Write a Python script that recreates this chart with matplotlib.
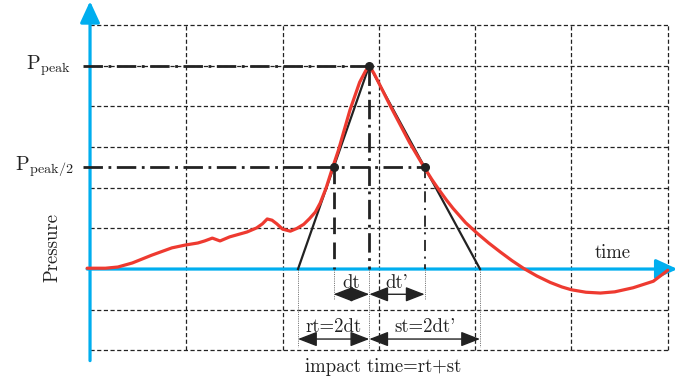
import numpy as np
import matplotlib
matplotlib.use("Agg")
import matplotlib.pyplot as plt

plt.rcParams['mathtext.fontset'] = 'cm'
plt.rcParams['lines.scale_dashes'] = False

# time in grid cells, pressure in grid cells (peak = 5)
curve_t = [-0.03, 0.16, 0.29, 0.44, 0.64, 0.85, 0.99, 1.12, 1.19, 1.27, 1.35,
           1.45, 1.63, 1.73, 1.79, 1.84, 1.89, 1.94, 2.00, 2.08, 2.15, 2.22,
           2.28, 2.34, 2.39, 2.45, 2.52, 2.58, 2.61, 2.70, 2.80, 2.86, 2.90,
           2.95, 3.01, 3.12, 3.22, 3.32, 3.40, 3.47, 3.55, 3.62, 3.70, 3.77,
           3.90, 4.02, 4.14, 4.26, 4.38, 4.50, 4.64, 4.78, 4.90, 5.00, 5.15,
           5.30, 5.45, 5.64, 5.85, 6.00]
curve_p = [0.02, 0.02, 0.05, 0.15, 0.34, 0.52, 0.59, 0.64, 0.69, 0.76, 0.69,
           0.79, 0.91, 1.01, 1.11, 1.23, 1.20, 1.11, 0.98, 0.93, 1.00, 1.10,
           1.24, 1.40, 1.62, 1.98, 2.50, 2.92, 3.17, 3.91, 4.59, 4.86, 5.00,
           4.80, 4.52, 4.00, 3.55, 3.10, 2.78, 2.50, 2.20, 1.96, 1.70, 1.49,
           1.14, 0.88, 0.64, 0.42, 0.21, 0.02, -0.17, -0.33, -0.44, -0.51, -0.57,
           -0.59, -0.56, -0.46, -0.30, -0.03]

t_start = 2.16
t_peak = 2.90
t_end = 4.05
p_peak = 5.0
grid_x = [1, 2, 3, 4, 5, 6]
grid_y = [-2, -1, 1, 2, 3, 4, 5, 6]

blue = '#00aeef'
red = '#ee3a30'
dark = '#222222'
fs = 13.5

t_half_l = (t_start + t_peak) / 2
t_half_r = (t_peak + t_end) / 2

fig = plt.figure(figsize=(6.75, 3.83), dpi=100)
ax = fig.add_axes([0, 0, 1, 1])
ax.set_xlim(-0.935, 6.075)
ax.set_ylim(-2.80, 6.61)
ax.axis('off')

# dashed grid
for gx in grid_x:
    ax.plot([gx, gx], [-2, 6], color=dark, lw=0.9, dashes=(3, 1.8), zorder=1)
for gy in grid_y:
    ax.plot([0, 6], [gy, gy], color=dark, lw=0.9, dashes=(3, 1.8), zorder=1)

# blue axes
arrow_kw = dict(arrowstyle='-|>,head_length=1.3,head_width=0.6',
                color=blue, lw=2.3, mutation_scale=10, shrinkA=0, shrinkB=0)
ax.annotate('', xy=(0, 6.58), xytext=(0, -2.25), arrowprops=arrow_kw,
            annotation_clip=False, zorder=2)
ax.annotate('', xy=(6.1, 0), xytext=(-0.03, 0), arrowprops=arrow_kw,
            annotation_clip=False, zorder=2)

# dash-dot guides
dashdot = (14, 4, 2, 4)
ax.plot([-0.07, t_peak], [p_peak, p_peak], color=dark, lw=2.0, dashes=dashdot, zorder=3)
ax.plot([-0.07, t_half_r], [p_peak / 2, p_peak / 2], color=dark, lw=2.0, dashes=dashdot, zorder=3)
ax.plot([t_peak, t_peak], [p_peak, 0], color=dark, lw=2.0, dashes=dashdot, zorder=3)
ax.plot([t_half_l, t_half_l], [p_peak / 2, 0], color=dark, lw=2.0, dashes=(12, 6), zorder=3)
ax.plot([t_half_r, t_half_r], [p_peak / 2, 0], color=dark, lw=1.3, dashes=(8, 4, 1.5, 4), zorder=3)

# idealised triangle
ax.plot([t_start, t_peak, t_end], [0, p_peak, 0], color=dark, lw=1.6, zorder=4)

# measured pressure
ax.plot(curve_t, curve_p, color=red, lw=2.3, solid_capstyle='round',
        solid_joinstyle='round', zorder=5)

ax.plot([t_peak, t_half_l, t_half_r], [p_peak, p_peak / 2, p_peak / 2], 'o',
        color=dark, ms=5.5, zorder=6)

# thin dotted extension lines
for tx, ybot in [(t_start, -1.92), (t_half_l, -0.75), (t_peak, -1.95),
                 (t_half_r, -0.75), (t_end, -1.92)]:
    ax.plot([tx, tx], [0, ybot], color='#777777', lw=0.7, dashes=(0.8, 0.8), zorder=2)

def dim_arrow(x0, x1, y, label, ylab):
    ax.annotate('', xy=(x1, y), xytext=(x0, y),
                arrowprops=dict(arrowstyle='<|-|>,head_length=0.9,head_width=0.35',
                                color=dark, lw=1.0, mutation_scale=13,
                                shrinkA=0, shrinkB=0), zorder=6)
    ax.text((x0 + x1) / 2, ylab, label, family='cmr10', fontsize=fs,
            ha='center', va='center', color=dark)

dim_arrow(t_half_l, t_peak, -0.62, 'dt', -0.34)
dim_arrow(t_peak, t_half_r, -0.62, "dt'", -0.34)
dim_arrow(t_start, t_peak, -1.72, 'rt=2dt', -1.43)
dim_arrow(t_peak, t_end, -1.72, "st=2dt'", -1.43)

ax.text(3.04, -2.41, 'impact time=rt+st', family='cmr10', fontsize=fs,
        ha='center', va='center', color=dark)
ax.text(5.43, 0.39, 'time', family='cmr10', fontsize=fs,
        ha='center', va='center', color=dark)
ax.text(-0.395, 0.52, 'Pressure', family='cmr10', fontsize=fs, rotation=90,
        ha='center', va='center', color=dark)
ax.text(-0.2, p_peak, r'$\mathrm{P_{peak}}$', fontsize=14.5,
        ha='right', va='center', color=dark)
ax.text(-0.17, p_peak / 2, r'$\mathrm{P_{peak/2}}$', fontsize=14.5,
        ha='right', va='center', color=dark)

fig.savefig('out.png', dpi=100)
